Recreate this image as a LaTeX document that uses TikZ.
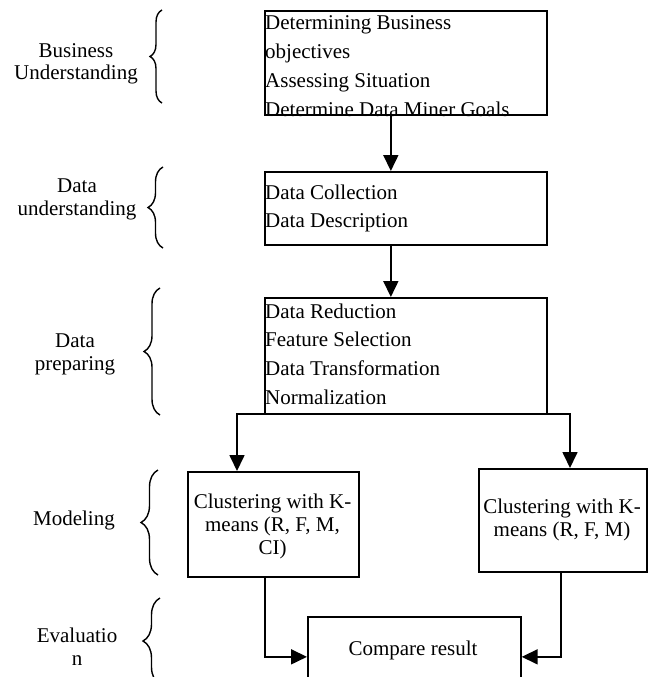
\documentclass[tikz,border=0pt]{standalone}
\usepackage{fontspec}
\setmainfont{Liberation Serif}
\usetikzlibrary{arrows.meta,decorations.pathreplacing}
\newcommand{\mytab}[2]{\begin{tabular}[t]{@{}#1@{}}#2\end{tabular}}
\begin{document}
\begin{tikzpicture}[x=1pt,y=-1pt,
  boxn/.style={draw,line width=1.7pt,rectangle,inner sep=0pt,anchor=north west},
  boxtxt/.style={inner sep=0pt,anchor=base west,font=\fontsize{21}{28.75}\selectfont},
  midtxt/.style={inner sep=0pt,anchor=base,font=\fontsize{21}{23}\selectfont},
  lbl/.style={inner sep=0pt,anchor=base,font=\fontsize{21}{23}\selectfont},
  conn/.style={line width=1.7pt},
  arr/.style={line width=1.7pt,-{Triangle[length=16pt,width=15pt]}},
  brc/.style={line width=1.4pt,decorate,decoration={brace,amplitude=#1}}]
\clip (0,0) rectangle (651,677);
\fill[white] (0,0) rectangle (651,677);
% boxes
\node[boxn,minimum width=282pt,minimum height=104pt] (b1) at (264,10) {};
\node[boxn,minimum width=282pt,minimum height=73pt] (b2) at (264,171) {};
\node[boxn,minimum width=282pt,minimum height=116pt] (b3) at (264,297) {};
\node[boxn,minimum width=171pt,minimum height=105pt] (m1) at (187,471) {};
\node[boxn,minimum width=168pt,minimum height=103pt] (m2) at (478,468) {};
\node[boxn,minimum width=213pt,minimum height=80pt] (cmp) at (307,616) {};
% box texts
\node[boxtxt] (t1) at (265,30) {\mytab{l}{Determining Business\\objectives\\Assessing Situation\\Determine Data Miner Goals}};
\node[boxtxt] (t2) at (265,199) {\mytab{l}{Data Collection\\Data Description}};
\node[boxtxt] (t3) at (265,318) {\mytab{l}{Data Reduction\\Feature Selection\\Data Transformation\\Normalization}};
\node[midtxt] (t4) at (272.5,508) {\mytab{c}{Clustering with K-\\means (R, F, M,\\CI)}};
\node[midtxt] (t5) at (562,513) {\mytab{c}{Clustering with K-\\means (R, F, M)}};
\node[midtxt] (t6) at (413,655) {Compare result};
% connectors
\draw[arr] ([xshift=-15pt]b1.south) -- ([xshift=-15pt]b2.north);
\draw[arr] ([xshift=-15pt]b2.south) -- ([xshift=-15pt]b3.north);
\coordinate (sl) at (237,414);
\coordinate (sr) at (570,414);
\draw[conn] ([xshift=-0.85pt]sl) -- ([xshift=0.85pt]sr);
\draw[arr] (sl) -- (sl |- m1.north);
\draw[arr] (sr) -- (sr |- m2.north);
\draw[arr] ([xshift=-8.5pt]m1.south) |- (cmp.west);
\draw[arr] ([xshift=-2pt]m2.south) |- (cmp.east);
% labels
\node[lbl] (l1) at (76,57) {\mytab{c}{Business\\Understanding}};
\node[lbl] (l2) at (77,192) {\mytab{c}{Data\\understanding}};
\node[lbl] (l3) at (75,347) {\mytab{c}{Data\\preparing}};
\node[lbl] (l4) at (74,525) {Modeling};
\node[lbl] (l5) at (77,642) {\mytab{c}{Evaluatio\\n}};
% braces
\coordinate (r1a) at (162,103); \coordinate (r1b) at (162,10);
\coordinate (r2a) at (163,248); \coordinate (r2b) at (163,167);
\coordinate (r3a) at (160,415); \coordinate (r3b) at (160,288);
\coordinate (r4a) at (158,575); \coordinate (r4b) at (158,470);
\coordinate (r5a) at (160,684); \coordinate (r5b) at (160,598);
\draw[brc=12pt] (r1a) -- (r1b);
\draw[brc=15pt] (r2a) -- (r2b);
\draw[brc=16pt] (r3a) -- (r3b);
\draw[brc=17pt] (r4a) -- (r4b);
\draw[brc=17pt] (r5a) -- (r5b);
\end{tikzpicture}
\end{document}
